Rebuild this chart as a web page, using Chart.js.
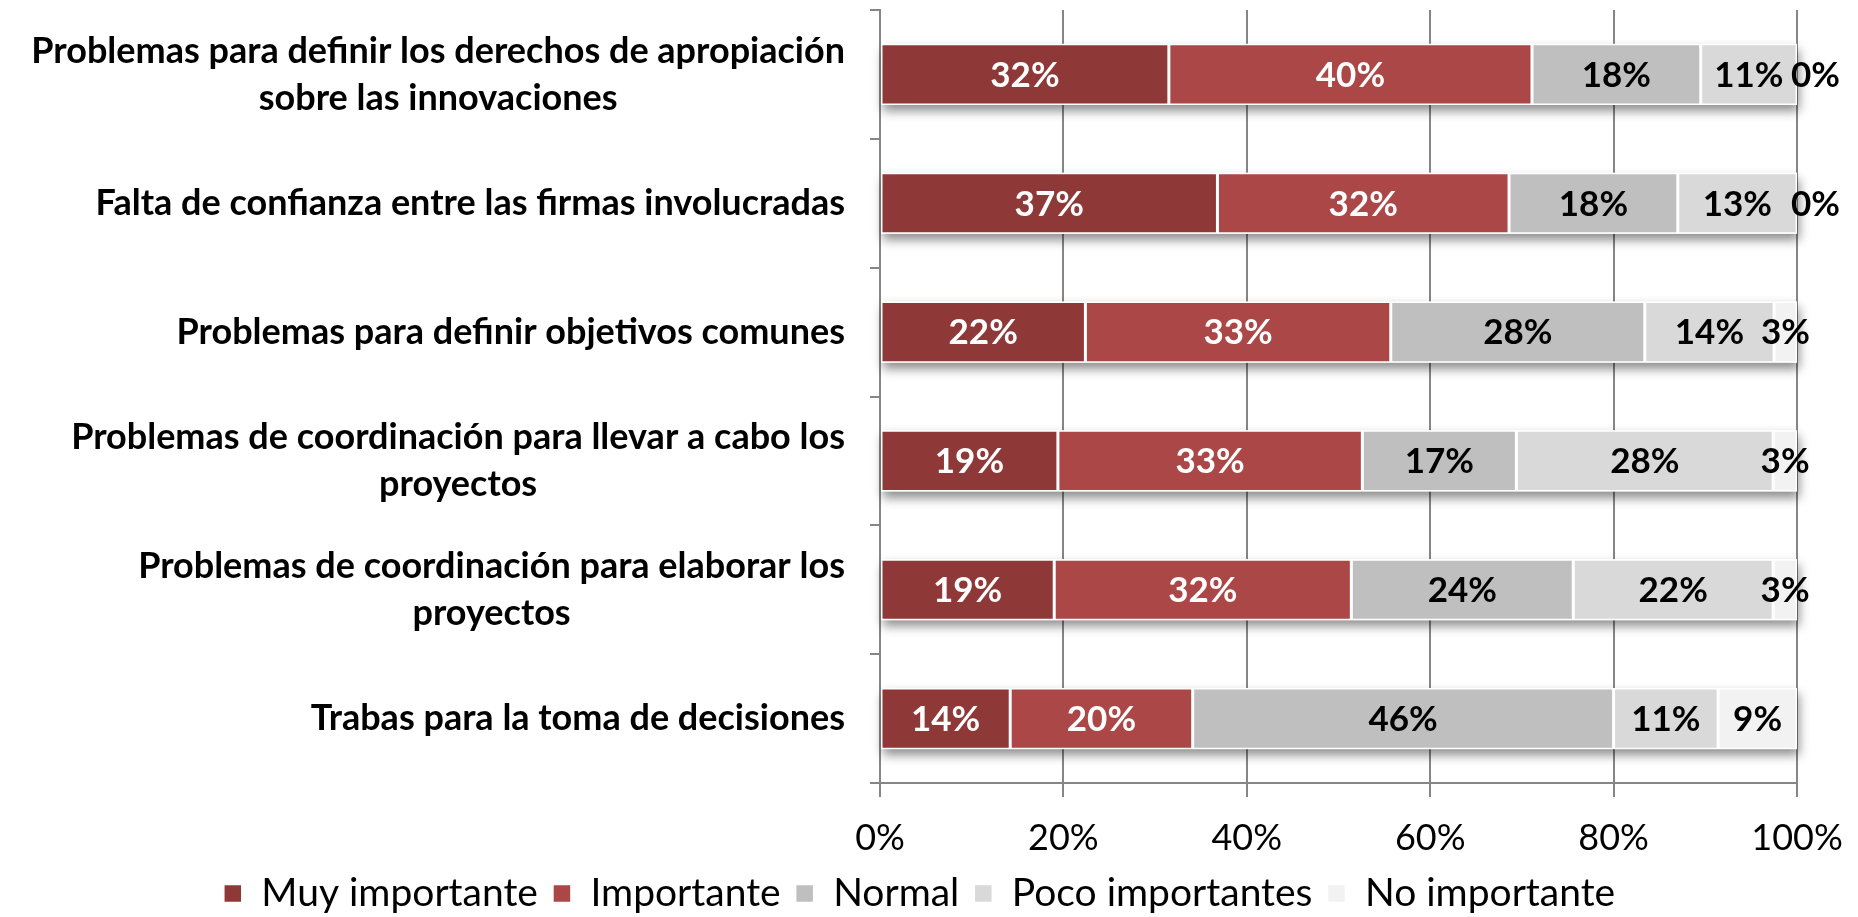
<!DOCTYPE html>
<html>
<head>
<meta charset="utf-8">
<script src="https://cdn.jsdelivr.net/npm/chart.js@4.4.1/dist/chart.umd.min.js"></script>
<style>
  html, body { margin: 0; padding: 0; background: #fff; }
</style>
</head>
<body>
<canvas id="chart" width="1858" height="917"></canvas>
<script>
// Categories (multi-line ones as arrays)
const categories = [
    ['Problemas para definir los derechos de apropiación', 'sobre las innovaciones'],
    'Falta de confianza entre las firmas involucradas',
    'Problemas para definir objetivos comunes',
    ['Problemas de coordinación para llevar a cabo los', 'proyectos'],
    ['Problemas de coordinación para elaborar los', 'proyectos'],
    'Trabas para la toma de decisiones'
];

const seriesNames = ['Muy importante', 'Importante', 'Normal', 'Poco importantes', 'No importante'];

// Shares in % (labels show rounded values)
const muyImportante   = [31.5, 36.8, 22.4, 19.4, 19.0, 14.2];
const importante      = [39.6, 31.8, 33.3, 33.2, 32.4, 19.9];
const normal          = [18.4, 18.4, 27.7, 16.8, 24.2, 45.9];
const pocoImportantes = [10.5, 13.0, 14.1, 28.0, 21.8, 11.4];
const noImportante    = [0,    0,    2.5,  2.6,  2.6,  8.6];

const xTicks = [0, 20, 40, 60, 80, 100];

const colors = ['#8E3838', '#AB4747', '#BFBFBF', '#D9D9D9', '#F2F2F2'];
const labelColors = ['#fff', '#fff', '#000', '#000', '#000'];
const seriesValues = [muyImportante, importante, normal, pocoImportantes, noImportante];

const FONT = 'Lato, "Open Sans", sans-serif';
const GRID = '#868686';

// soft shadow under each whole bar
const shadowPlugin = {
    id: 'barShadow',
    beforeDatasetsDraw(chart) {
        const ctx = chart.ctx;
        const first = chart.getDatasetMeta(0).data;
        const last = chart.getDatasetMeta(chart.data.datasets.length - 1).data;
        ctx.save();
        ctx.shadowColor = 'rgba(0,0,0,0.45)';
        ctx.shadowBlur = 10;
        ctx.shadowOffsetX = 2;
        ctx.shadowOffsetY = 6;
        ctx.fillStyle = '#fff';
        first.forEach((el, i) => {
            const l = el.base, r = last[i].x, h = el.height;
            ctx.fillRect(l, el.y - h / 2, r - l, h);
        });
        ctx.restore();
    }
};

// percentage labels inside segments
const valueLabels = {
    id: 'valueLabels',
    afterDatasetsDraw(chart) {
        const ctx = chart.ctx;
        ctx.save();
        ctx.font = 'bold 35px ' + FONT;
        ctx.textAlign = 'center';
        ctx.textBaseline = 'middle';
        chart.data.datasets.forEach((ds, di) => {
            chart.getDatasetMeta(di).data.forEach((el, i) => {
                const v = ds.data[i];
                const txt = Math.round(v) + '%';
                let x = (el.x + el.base) / 2;
                if (v === 0) x = el.x - 6 + ctx.measureText(txt).width / 2;
                ctx.fillStyle = labelColors[di];
                ctx.fillText(txt, x, el.y + 1);
            });
        });
        ctx.restore();
    }
};

// category labels: right-aligned block, lines centred inside the block
const categoryLabels = {
    id: 'categoryLabels',
    afterDraw(chart) {
        const ctx = chart.ctx;
        const y = chart.scales.y;
        const right = y.right - 10 - 25;
        const lh = 47;
        ctx.save();
        ctx.font = 'bold 36px ' + FONT;
        ctx.fillStyle = '#000';
        ctx.textAlign = 'center';
        ctx.textBaseline = 'middle';
        categories.forEach((c, i) => {
            const lines = Array.isArray(c) ? c : [c];
            const w = Math.max(...lines.map(s => ctx.measureText(s).width));
            const cx = right - w / 2;
            const cy = y.getPixelForTick(i);
            lines.forEach((s, k) => {
                ctx.fillText(s, cx, cy + (k - (lines.length - 1) / 2) * lh);
            });
        });
        ctx.restore();
    }
};

new Chart(document.getElementById('chart'), {
    type: 'bar',
    data: {
        labels: categories,
        datasets: seriesNames.map((name, i) => ({
            label: name,
            data: seriesValues[i],
            backgroundColor: colors[i],
            borderColor: '#fff',
            borderWidth: 1.5,
            borderSkipped: false,
            stack: 's',
            categoryPercentage: 0.95,
            barPercentage: 0.5
        }))
    },
    options: {
        indexAxis: 'y',
        responsive: false,
        animation: false,
        devicePixelRatio: 1,
        layout: { padding: { top: 10, right: 61, left: 42, bottom: -6 } },
        plugins: {
            legend: {
                position: 'bottom',
                labels: {
                    boxWidth: 18,
                    boxHeight: 18,
                    padding: 15,
                    color: '#000',
                    font: { family: FONT, size: 39 }
                }
            },
            tooltip: { enabled: false }
        },
        scales: {
            x: {
                min: 0,
                max: 100,
                afterBuildTicks(scale) { scale.ticks = xTicks.map(v => ({ value: v })); },
                afterFit(scale) {
                    scale.height = 76;
                    scale.paddingLeft = 0;
                    scale.paddingRight = 0;
                },
                ticks: {
                    callback: v => v + '%',
                    color: '#000',
                    padding: 20,
                    font: { family: FONT, size: 36 }
                },
                grid: { color: GRID, lineWidth: 2, tickLength: 14 },
                border: { color: GRID, width: 2 }
            },
            y: {
                ticks: { display: false },
                afterFit(scale) { scale.width = 838; },
                grid: { color: GRID, lineWidth: 2, tickLength: 10, drawOnChartArea: false },
                border: { color: GRID, width: 2 }
            }
        }
    },
    plugins: [shadowPlugin, valueLabels, categoryLabels]
});
</script>
</body>
</html>
